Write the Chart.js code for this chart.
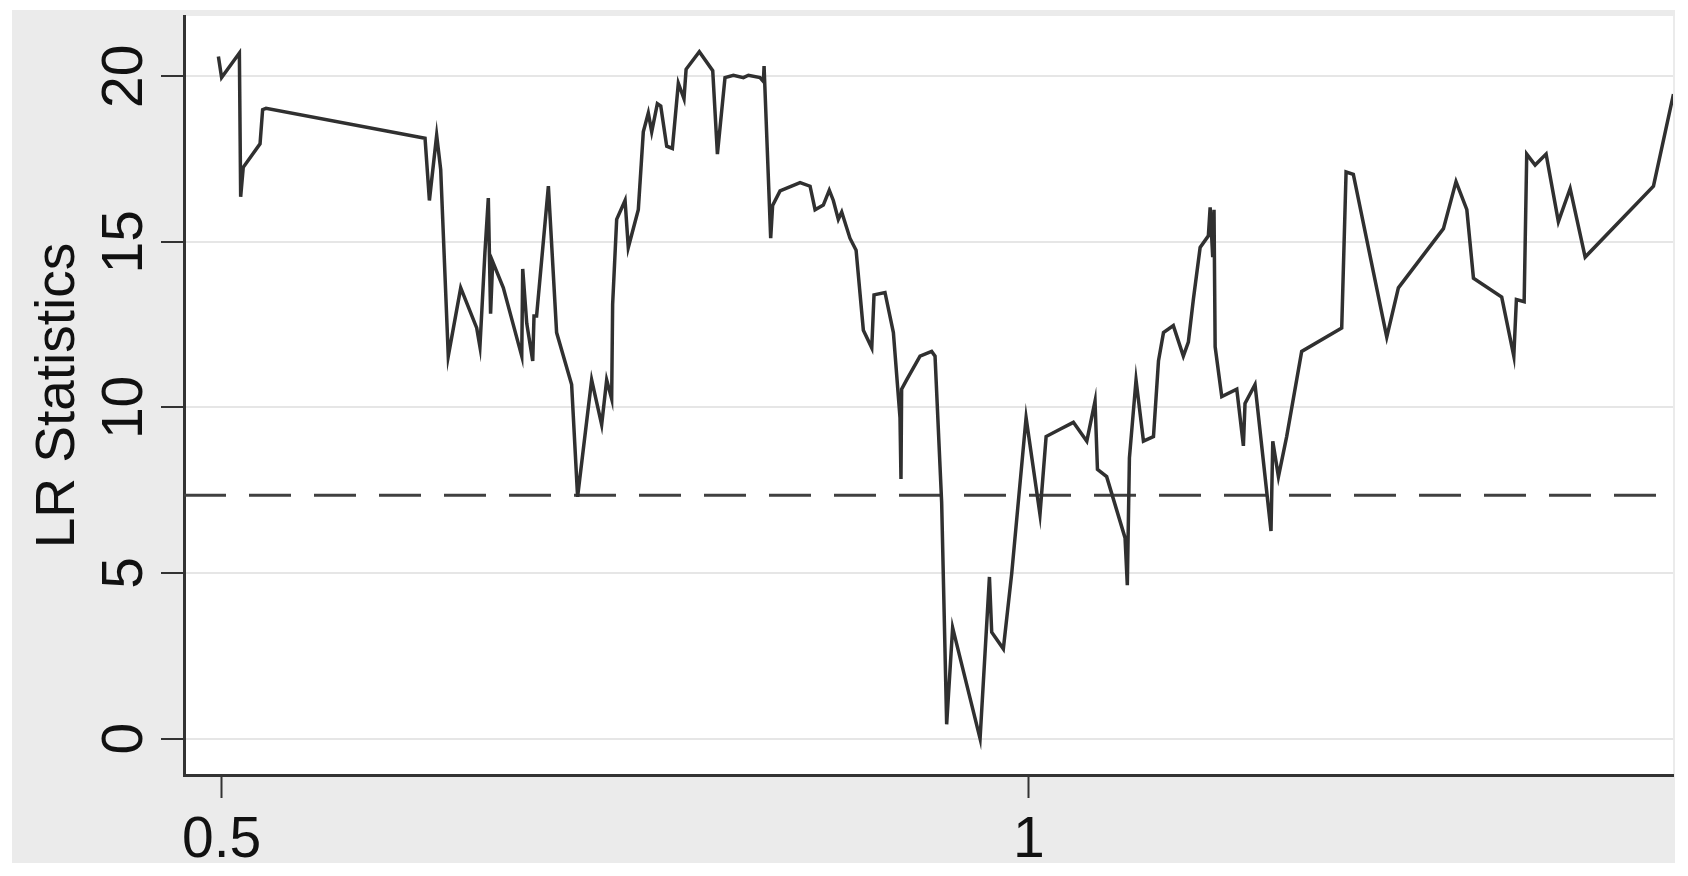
<!DOCTYPE html>
<html>
<head>
<meta charset="utf-8">
<script src="https://cdn.jsdelivr.net/npm/chart.js@4.4.1/dist/chart.umd.min.js"></script>
<style>
html,body{margin:0;padding:0;background:#ffffff;}
#wrap{width:1688px;height:876px;}
</style>
</head>
<body>
<div id="wrap"><canvas id="c" width="1688" height="876"></canvas></div>
<script>
// ---- data ----
const xValues = [
  0.498, 0.500, 0.511, 0.5118, 0.5134, 0.5238, 0.5254, 0.5275,
  0.6260, 0.6287, 0.6332, 0.6357, 0.6404, 0.6481, 0.6580, 0.6600, 0.6631, 0.6652, 0.6666, 0.6679,
  0.6745, 0.6859, 0.6865, 0.6890, 0.6927, 0.6935, 0.6951, 0.7024, 0.7075, 0.7168, 0.7205,
  0.7292, 0.7354, 0.7385, 0.7416, 0.7422, 0.7447, 0.7499, 0.7519, 0.7581, 0.7612, 0.7643,
  0.7664, 0.7699, 0.7720, 0.7757, 0.7792, 0.7829, 0.7864, 0.7877, 0.7959, 0.8042, 0.8071,
  0.8118, 0.8170, 0.8232, 0.8263, 0.8335, 0.8356, 0.8360, 0.8401, 0.8413, 0.8459, 0.8583,
  0.8645, 0.8676, 0.8727, 0.8764, 0.8789, 0.8820, 0.8841, 0.8892, 0.8930, 0.8975, 0.9027,
  0.9041, 0.9109, 0.9161, 0.9202, 0.9208, 0.9212, 0.9243, 0.9326, 0.9398, 0.9419, 0.9460,
  0.9491, 0.9528, 0.9698, 0.9756, 0.9770, 0.9842, 0.9894, 0.9983, 1.0069, 1.0107, 1.0193,
  1.0276, 1.0359, 1.0410, 1.0425, 1.0482, 1.0596, 1.0610, 1.0623, 1.0664, 1.0710, 1.0772,
  1.0803, 1.0834, 1.0895, 1.0957, 1.0988, 1.1019, 1.1061, 1.1112, 1.1123, 1.1139, 1.1147,
  1.1154, 1.1195, 1.1288, 1.1329, 1.1339, 1.1401, 1.1500, 1.1511, 1.1546, 1.1597, 1.1690,
  1.1938, 1.1965, 1.2010, 1.2217, 1.2289, 1.2568, 1.2646, 1.2713, 1.2754, 1.2929, 1.3004,
  1.3020, 1.3068, 1.3084, 1.3136, 1.3204, 1.3280, 1.3353, 1.3446, 1.3869, 1.3993
];
const lrValues = [
  20.60, 19.96, 20.70, 16.36, 17.25, 17.96, 18.99, 19.03,
  18.13, 16.25, 18.22, 17.18, 11.55, 13.61, 12.40, 11.83, 14.68, 16.32, 12.83, 14.40,
  13.61, 11.55, 14.18, 12.54, 11.40, 12.76, 12.76, 16.68, 12.26, 10.69, 7.30,
  10.83, 9.48, 10.83, 10.26, 13.11, 15.68, 16.25, 14.83, 15.97, 18.32, 18.89,
  18.32, 19.17, 19.10, 17.89, 17.82, 19.79, 19.32, 20.21, 20.74, 20.17, 17.65,
  19.96, 20.03, 19.96, 20.03, 19.96, 19.84, 20.31, 15.11, 16.10, 16.54, 16.79,
  16.68, 15.97, 16.11, 16.56, 16.25, 15.68, 15.90, 15.11, 14.75, 12.33, 11.80,
  13.40, 13.47, 12.26, 9.69, 7.84, 10.55, 10.83, 11.55, 11.69, 11.55, 7.13,
  0.43, 3.35, 0.00, 4.88, 3.21, 2.71, 4.99, 9.69, 6.77, 9.12, 9.34,
  9.55, 8.98, 10.19, 8.13, 7.91, 6.06, 4.63, 8.48, 10.83, 8.98, 9.12,
  11.40, 12.26, 12.47, 11.55, 11.97, 13.26, 14.83, 15.18, 16.04, 14.54, 15.97,
  11.83, 10.33, 10.55, 8.84, 10.12, 10.69, 6.27, 8.98, 7.91, 9.12, 11.69,
  12.40, 17.11, 17.04, 12.12, 13.61, 15.40, 16.82, 15.97, 13.90, 13.33, 11.55,
  13.26, 13.19, 17.65, 17.32, 17.65, 15.61, 16.61, 14.54, 16.68, 19.46
];
const criticalValue = 7.35;
const xTickValues = [0.5, 1];
const yTickValues = [0, 5, 10, 15, 20];
const xMin = 0.4767, xMax = 1.399;
const yMin = -1.10, yMax = 21.82;
const yTitle = 'LR Statistics';

// ---- build datasets from arrays ----
const lrPoints = xValues.map((x, i) => ({ x: x, y: lrValues[i] }));
const critPoints = [{ x: xMin, y: criticalValue }, { x: xMax, y: criticalValue }];

const bgPlugin = {
  id: 'bg',
  beforeDraw(chart) {
    const ctx = chart.ctx;
    const a = chart.chartArea;
    ctx.save();
    ctx.fillStyle = '#ffffff';
    ctx.fillRect(0, 0, chart.width, chart.height);
    ctx.fillStyle = '#ebebeb';
    ctx.fillRect(12, 10, 1663, 853);
    ctx.fillStyle = '#ffffff';
    ctx.fillRect(a.left, a.top, a.right - a.left, a.bottom - a.top);
    ctx.restore();
  }
};

const tickFont = 'Liberation Sans, Arial, sans-serif';

new Chart(document.getElementById('c'), {
  type: 'line',
  data: {
    datasets: [
      {
        data: lrPoints,
        borderColor: '#303030',
        borderWidth: 3.5,
        pointRadius: 0,
        tension: 0,
        fill: false,
        borderJoinStyle: 'miter'
      },
      {
        data: critPoints,
        borderColor: '#404040',
        borderWidth: 3,
        borderDash: [42, 23],
        pointRadius: 0,
        tension: 0,
        fill: false
      }
    ]
  },
  options: {
    responsive: false,
    animation: false,
    events: [],
    layout: { padding: { left: 0, top: 16, right: 15, bottom: 0 } },
    plugins: { legend: { display: false }, tooltip: { enabled: false } },
    scales: {
      x: {
        type: 'linear',
        min: xMin,
        max: xMax,
        afterBuildTicks: s => { s.ticks = xTickValues.map(v => ({ value: v })); },
        afterFit: s => { s.height = 101; s.paddingLeft = 0; s.paddingRight = 0; },
        grid: { drawOnChartArea: false, drawTicks: true, tickLength: 23, tickColor: '#333333', tickWidth: 2 },
        border: { display: true, color: '#333333', width: 3 },
        ticks: {
          font: { family: tickFont, size: 57 },
          color: '#111111',
          padding: 9,
          maxRotation: 0,
          minRotation: 0,
          autoSkip: false,
          callback: v => String(v)
        }
      },
      y: {
        type: 'linear',
        min: yMin,
        max: yMax,
        afterBuildTicks: s => { s.ticks = yTickValues.map(v => ({ value: v })); },
        afterFit: s => { s.width = 184; s.paddingTop = 0; s.paddingBottom = 0; },
        grid: { color: '#e6e6e6', lineWidth: 2, drawTicks: true, tickLength: 23, tickColor: '#333333', tickWidth: 2 },
        border: { display: true, color: '#333333', width: 3 },
        ticks: {
          font: { family: tickFont, size: 57 },
          color: '#111111',
          padding: 3,
          minRotation: 90,
          maxRotation: 90,
          crossAlign: 'center',
          autoSkip: false,
          callback: v => String(v)
        },
        title: {
          display: true,
          text: yTitle,
          font: { family: tickFont, size: 55 },
          color: '#111111',
          padding: { top: 26, bottom: 0 }
        }
      }
    }
  },
  plugins: [bgPlugin]
});
</script>
</body>
</html>
